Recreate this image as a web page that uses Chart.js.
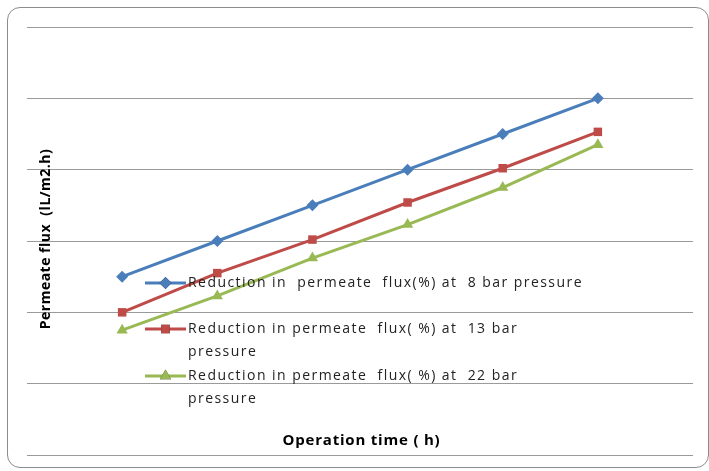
<!DOCTYPE html>
<html>
<head>
<meta charset="utf-8">
<script src="https://cdn.jsdelivr.net/npm/chart.js@4.4.1/dist/chart.umd.min.js"></script>
<style>
  body { margin: 0; background: #fff; }
  #wrap { position: relative; width: 709px; height: 471px; overflow: hidden; }
  #frame { position: absolute; left: 7px; top: 7px; width: 702px; height: 461px; box-sizing: border-box;
           border: 1px solid #8c8c8c; border-radius: 13px; }
  canvas { position: absolute; left: 0; top: 0; }
</style>
</head>
<body>
<div id="wrap">
  <div id="frame"></div>
  <canvas id="myChart" width="709" height="471"></canvas>
</div>
<script>
// operation time steps (no tick labels shown on the original)
const timeSteps = [1, 2, 3, 4, 5, 6]
// permeate flux (axis 0..60, gridline every 10)
const flux8bar  = [25, 30, 35, 40, 45, 50]
const flux13bar = [20, 25.5, 30.2, 35.4, 40.2, 45.3]
const flux22bar = [17.5, 22.3, 27.6, 32.3, 37.5, 43.5]

const seriesNames = [
    ['Reduction in  permeate  flux(%) at  8 bar pressure'],
    ['Reduction in permeate  flux( %) at  13 bar', 'pressure'],
    ['Reduction in permeate  flux( %) at  22 bar', 'pressure']
]
const xTitle = 'Operation time ( h)'
const yTitle = 'Permeate flux  (lL/m2.h)'

const colors = ['#4a7ebb', '#be4b48', '#98b954']
const markers = ['rectRot', 'rect', 'triangle']
const markerSize = [6, 6, 6.5]

const toPoints = vals => vals.map((v, i) => ({ x: timeSteps[i], y: v }))

const datasets = [flux8bar, flux13bar, flux22bar].map((vals, i) => ({
    label: seriesNames[i].join(' '),
    data: toPoints(vals),
    borderColor: colors[i],
    backgroundColor: colors[i],
    borderWidth: 3,
    pointStyle: markers[i],
    pointRadius: markerSize[i],
    pointBorderWidth: 0,
    tension: 0
}))

// titles and legend sit inside the plot area on the original, so draw them by hand
const overlay = {
    id: 'overlay',
    afterDraw(chart) {
        const c = chart.ctx
        c.save()
        c.fillStyle = '#000'
        c.textBaseline = 'middle'

        // y title
        c.font = 'bold 14px "Open Sans"'
        c.letterSpacing = '0.5px'
        c.textAlign = 'center'
        c.save()
        c.translate(46.5, 239)
        c.rotate(-Math.PI / 2)
        c.fillText(yTitle, 0, 0)
        c.restore()

        // x title
        c.font = 'bold 15px "Open Sans"'
        c.letterSpacing = '0.8px'
        c.fillText(xTitle, 361.5, 441)

        // legend
        const rowY = [283, 329, 376]
        c.textAlign = 'left'
        c.font = '14px "Open Sans"'
        c.letterSpacing = '1.45px'
        seriesNames.forEach((lines, i) => {
            const y = rowY[i]
            c.strokeStyle = colors[i]
            c.lineWidth = 3
            c.beginPath()
            c.moveTo(145, y)
            c.lineTo(186, y)
            c.stroke()
            Chart.helpers.drawPoint(c, {
                pointStyle: markers[i], radius: markerSize[i], borderWidth: 0
            }, 165.5, y)
            c.fillStyle = colors[i]
            c.fill()
            c.fillStyle = '#222'
            lines.forEach((t, k) => c.fillText(t, 188, y + k * 22.7))
        })
        c.restore()
    }
}

const ctx = document.getElementById('myChart').getContext('2d')
const myChart = new Chart(ctx, {
    type: 'line',
    data: { datasets: datasets },
    options: {
        responsive: false,
        animation: false,
        layout: { padding: { left: 27, right: 16, top: 27, bottom: 16 } },
        plugins: { legend: { display: false }, tooltip: { enabled: false } },
        scales: {
            x: {
                type: 'linear',
                min: 0,
                max: 7,
                grid: { display: false },
                border: { display: false },
                ticks: { display: false },
                afterFit: s => { s.height = 0 }
            },
            y: {
                min: 0,
                max: 60,
                ticks: { display: false, stepSize: 10 },
                grid: { color: '#9a9a9a', lineWidth: 1, drawTicks: false },
                border: { display: false },
                afterFit: s => { s.width = 0 }
            }
        }
    },
    plugins: [overlay]
})
</script>
</body>
</html>
